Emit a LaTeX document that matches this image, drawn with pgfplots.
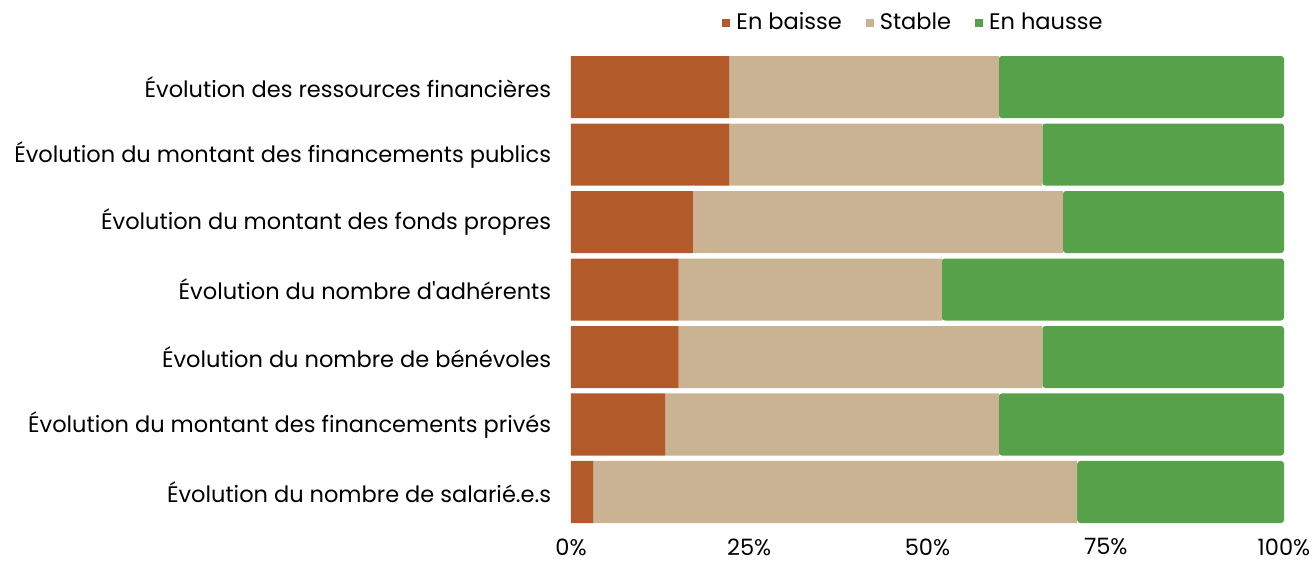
\documentclass[border=0pt]{standalone}
\usepackage{pgfplots}
\pgfplotsset{compat=1.18}
\usepackage{fontspec}
\setmainfont{Poppins}[Ligatures=TeXOff]
\definecolor{cbaisse}{HTML}{B35A2A}
\definecolor{cstable}{HTML}{C9B393}
\definecolor{chausse}{HTML}{58A14B}
\begin{document}
\fontsize{23bp}{27bp}\selectfont
\begin{tikzpicture}
\useasboundingbox (-571bp,-35.25bp) rectangle (743bp,525.75bp);
\begin{axis}[
  at={(0,0)}, anchor=south west,
  scale only axis,
  width=713bp, height=472.5bp,
  xbar stacked,
  bar width=62bp,
  xmin=0, xmax=100,
  ymin=-0.5, ymax=6.5,
  axis line style={draw=none},
  tick style={draw=none},
  xtick={0,25,50,75,100},
  xticklabels={0\%,25\%,50\%,75\%,100\%},
  ytick={0,1,2,3,4,5,6},
  yticklabels={{Évolution du nombre de salarié.e.s},{Évolution du montant des financements privés},{Évolution du nombre de bénévoles},{Évolution du nombre d'adhérents},{Évolution du montant des fonds propres},{Évolution du montant des financements publics},{Évolution des ressources financières}},
  yticklabel style={font=\fontsize{22.5bp}{27bp}\selectfont, xshift=-12bp},
  xticklabel style={font=\fontsize{22.5bp}{27bp}\selectfont, yshift=-5bp},
  legend columns=3,
  legend style={draw=none, fill=none, at={(0.5,1)}, anchor=south, yshift=16bp, xshift=-14bp,
    font=\fontsize{22.5bp}{27bp}\selectfont,
    /tikz/every odd column/.append style={column sep=4bp},
    /tikz/every even column/.append style={column sep=22bp}},
  legend image code/.code={\fill[#1, sharp corners] (0bp,-4bp) rectangle (8bp,4bp);},
]
\addplot[fill=cbaisse, draw=none] coordinates {(3.1,0) (13.2,1) (15.1,2) (15.1,3) (17.1,4) (22.2,5) (22.2,6)};
\addplot[fill=cstable, draw=none] coordinates {(67.9,0) (46.8,1) (51.0,2) (36.9,3) (51.9,4) (43.9,5) (37.8,6)};
\addplot[fill=chausse, draw=none, rounded corners=3bp] coordinates {(29.0,0) (40.0,1) (33.9,2) (48.0,3) (31.0,4) (33.9,5) (40.0,6)};
\legend{En baisse, Stable, En hausse}
\end{axis}
\end{tikzpicture}
\end{document}
